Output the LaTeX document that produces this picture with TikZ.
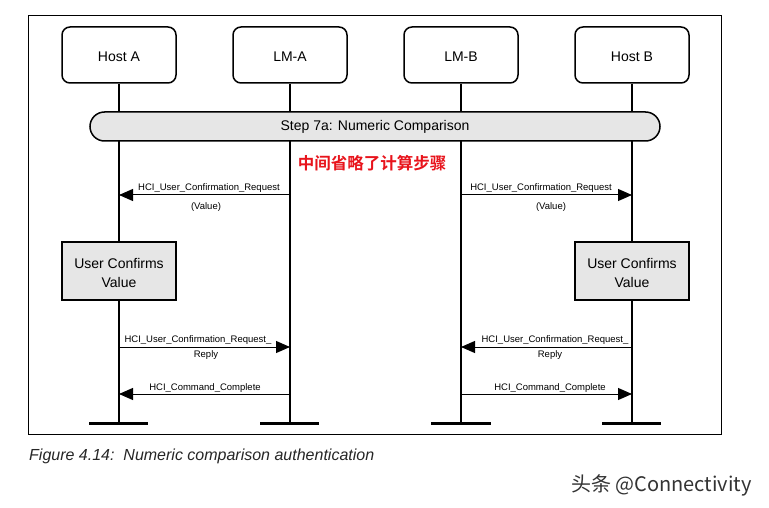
\documentclass[tikz,border=0pt]{standalone}
\usepackage{fontspec}
\setmainfont{Liberation Sans}
\newfontfamily\cjkfont{Noto Sans CJK SC}
\newfontfamily\cjkbold{Noto Sans CJK SC Bold}
\usetikzlibrary{arrows.meta}
\definecolor{boxgray}{HTML}{E6E6E6}
\definecolor{notered}{HTML}{E8141C}
\definecolor{wmgray}{HTML}{333333}
\tikzset{
  entity/.style={draw, line width=1.5pt, rounded corners=8pt, minimum width=114pt, minimum height=56pt, text height=14pt, text depth=0pt, fill=white, font=\fontsize{14}{16}\selectfont},
  actbox/.style={draw, line width=1.5pt, fill=boxgray, minimum width=114pt, minimum height=58pt, align=center, font=\fontsize{14}{19}\selectfont},
  lifeline/.style={line width=2pt},
  endbar/.style={line width=3pt},
  msg/.style={line width=1pt, -{Triangle[length=14pt,width=12pt]}},
  msglabel/.style={anchor=base, inner sep=0pt, font=\fontsize{9.5}{11}\selectfont},
}
\begin{document}
\begin{tikzpicture}[x=1pt,y=-1pt]
\useasboundingbox (0,0) rectangle (769,508);
\fill[white] (0,0) rectangle (769,508);
% frame
\draw[line width=1pt] (28.5,15.5) rectangle (721.5,434.5);
% entities
\node[entity] (hA) at (119,55) {Host A};
\node[entity] (lA) at (290,55) {LM-A};
\node[entity] (lB) at (461,55) {LM-B};
\node[entity] (hB) at (632,55) {Host B};
% lifeline ends
\coordinate (ehA) at (119,423);
\coordinate (elA) at (290,423);
\coordinate (elB) at (461,423);
\coordinate (ehB) at (632,423);
\draw[lifeline] (hA.south) -- (ehA);
\draw[lifeline] (lA.south) -- (elA);
\draw[lifeline] (lB.south) -- (elB);
\draw[lifeline] (hB.south) -- (ehB);
% end bars
\draw[endbar] ([xshift=-30pt]ehA) -- ([xshift=29pt]ehA);
\draw[endbar] ([xshift=-30pt]elA) -- ([xshift=29pt]elA);
\draw[endbar] ([xshift=-30pt]elB) -- ([xshift=30pt]elB);
\draw[endbar] ([xshift=-30pt]ehB) -- ([xshift=29pt]ehB);
% step bar
\node[draw, line width=1.5pt, fill=boxgray, rounded corners=14.5pt, minimum width=570pt, minimum height=29pt, font=\fontsize{14}{16}\selectfont] (step) at (375,126.5) {Step 7a: Numeric Comparison};
% note
\node[text=notered, font=\cjkbold\fontsize{16.5}{18}\selectfont, inner sep=0pt] (note) at (372,163.5) {中间省略了计算步骤};
% message points
\coordinate (m1a) at (119,195); \coordinate (m1b) at (290,195);
\coordinate (m2a) at (461,195); \coordinate (m2b) at (632,195);
\coordinate (m3a) at (119,347); \coordinate (m3b) at (290,347);
\coordinate (m4a) at (461,347); \coordinate (m4b) at (632,347);
\coordinate (m5a) at (119,394); \coordinate (m5b) at (290,394);
\coordinate (m6a) at (461,394); \coordinate (m6b) at (632,394);
% messages
\draw[msg] (m1b) -- (m1a);
\node[msglabel] (t1) at (209,190.5) {HCI\_User\_Confirmation\_Request};
\node[msglabel] (t1b) at (206,209.5) {(Value)};
\draw[msg] (m2a) -- (m2b);
\node[msglabel] (t2) at (541,190.5) {HCI\_User\_Confirmation\_Request};
\node[msglabel] (t2b) at (551,209.5) {(Value)};
% user confirms
\node[actbox] (ucA) at (119,271) {\rule{0pt}{14pt}User Confirms\\Value};
\node[actbox] (ucB) at (632,271) {\rule{0pt}{14pt}User Confirms\\Value};
\draw[msg] (m3a) -- (m3b);
\node[msglabel] (t3) at (198,342.5) {HCI\_User\_Confirmation\_Request\_};
\node[msglabel] (t3b) at (206,357.5) {Reply};
\draw[msg] (m4b) -- (m4a);
\node[msglabel] (t4) at (555,342.5) {HCI\_User\_Confirmation\_Request\_};
\node[msglabel] (t4b) at (550,357.5) {Reply};
\draw[msg] (m5b) -- (m5a);
\node[msglabel] (t5) at (205,390.5) {HCI\_Command\_Complete};
\draw[msg] (m6a) -- (m6b);
\node[msglabel] (t6) at (550,390.5) {HCI\_Command\_Complete};
% caption
\node[anchor=base west, inner sep=0pt, font=\itshape\fontsize{16}{18}\selectfont, text=black!85] (cap) at (29,460) {Figure 4.14:\ \ Numeric comparison authentication};
% watermark
\node[anchor=base east, inner sep=0pt, text=wmgray, font=\cjkfont\fontsize{20}{22}\selectfont] (wm) at (752,491) {头条 @Connectivity};
\end{tikzpicture}
\end{document}
